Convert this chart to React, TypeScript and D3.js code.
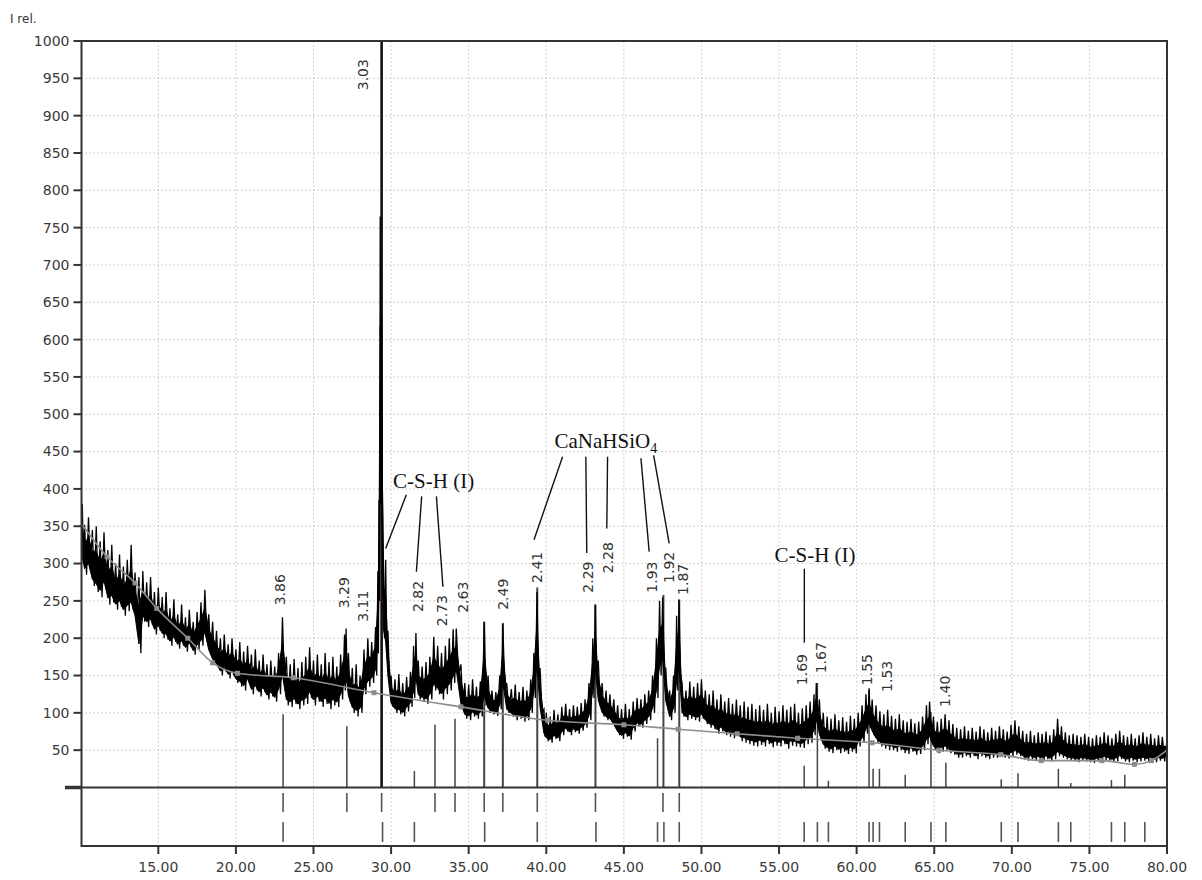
import React from 'react';
import * as d3 from 'd3';

// measured scan: [2theta, upper edge of noise band, lower edge of noise band]
const scanReadings: [number, number, number][] = [
  [10.1, 380, 300], [10.25, 352, 285], [10.5, 362, 292], [10.75, 345, 270], [11.0, 350, 262],
  [11.25, 330, 255], [11.5, 342, 268], [11.75, 318, 245], [12.0, 325, 248], [12.25, 300, 238],
  [12.5, 312, 242], [12.75, 296, 230], [13.0, 305, 236], [13.25, 325, 238], [13.5, 288, 222],
  [13.75, 282, 180], [14.0, 290, 222], [14.25, 275, 215], [14.5, 282, 218], [14.75, 262, 205],
  [15.0, 268, 210], [15.25, 255, 200], [15.5, 262, 198], [15.75, 240, 190], [16.0, 252, 195],
  [16.25, 232, 186], [16.5, 245, 190], [16.75, 228, 182], [17.0, 238, 188], [17.25, 222, 178],
  [17.5, 235, 185], [17.75, 248, 190], [18.0, 265, 200], [18.25, 232, 178], [18.5, 222, 165],
  [18.75, 210, 160], [19.0, 200, 150], [19.25, 205, 155], [19.5, 192, 146], [19.75, 200, 150],
  [20.0, 185, 140], [20.25, 195, 135], [20.5, 182, 130], [20.75, 190, 140], [21.0, 178, 125],
  [21.25, 185, 130], [21.5, 170, 122], [21.75, 178, 128], [22.0, 165, 118], [22.25, 170, 122],
  [22.5, 162, 115], [22.75, 180, 125], [23.0, 228, 140], [23.25, 175, 110], [23.5, 165, 108],
  [23.75, 172, 112], [24.0, 160, 105], [24.25, 168, 110], [24.5, 175, 112], [24.75, 188, 120],
  [25.0, 170, 110], [25.25, 178, 115], [25.5, 165, 108], [25.75, 180, 112], [26.0, 168, 105],
  [26.25, 175, 110], [26.5, 162, 108], [26.75, 178, 118], [27.0, 205, 130], [27.1, 213, 140],
  [27.25, 180, 115], [27.5, 160, 100], [27.75, 165, 95], [28.0, 150, 100], [28.25, 185, 125],
  [28.5, 200, 135], [28.75, 195, 140], [29.0, 215, 150], [29.15, 290, 180], [29.22, 385, 250],
  [29.3, 765, 380], [29.38, 630, 400], [29.5, 310, 200], [29.65, 305, 180], [29.8, 210, 140],
  [30.0, 150, 108], [30.25, 145, 100], [30.5, 152, 98], [30.75, 140, 95], [31.0, 148, 102],
  [31.25, 155, 108], [31.45, 190, 120], [31.6, 207, 140], [31.75, 170, 118], [32.0, 162, 115],
  [32.25, 168, 112], [32.5, 175, 118], [32.75, 202, 130], [33.0, 190, 125], [33.25, 180, 118],
  [33.5, 190, 125], [33.75, 200, 130], [34.0, 212, 140], [34.2, 213, 150], [34.5, 165, 105],
  [34.75, 140, 92], [35.0, 138, 90], [35.25, 145, 95], [35.5, 135, 92], [35.75, 142, 95],
  [36.0, 222, 110], [36.25, 150, 100], [36.5, 130, 98], [36.75, 128, 96], [37.0, 150, 105],
  [37.2, 220, 130], [37.45, 140, 100], [37.75, 132, 95], [38.0, 138, 90], [38.25, 128, 92],
  [38.5, 135, 88], [38.75, 130, 90], [39.0, 145, 100], [39.2, 180, 120], [39.4, 262, 150],
  [39.6, 160, 100], [39.85, 105, 68], [40.0, 100, 62], [40.25, 95, 60], [40.5, 104, 65],
  [40.75, 98, 62], [41.0, 108, 70], [41.25, 112, 75], [41.5, 105, 70], [41.75, 110, 74],
  [42.0, 108, 72], [42.25, 113, 76], [42.5, 118, 80], [42.75, 140, 90], [43.0, 200, 120],
  [43.15, 245, 150], [43.35, 170, 110], [43.6, 140, 95], [43.85, 130, 90], [44.1, 125, 88],
  [44.35, 118, 80], [44.6, 110, 70], [44.85, 105, 65], [45.1, 112, 68], [45.35, 105, 64],
  [45.6, 115, 75], [45.85, 120, 82], [46.1, 118, 80], [46.35, 125, 85], [46.6, 130, 90],
  [46.85, 150, 100], [47.1, 200, 120], [47.3, 250, 150], [47.5, 255, 160], [47.7, 160, 110],
  [47.95, 130, 90], [48.2, 150, 100], [48.4, 230, 130], [48.55, 252, 150], [48.75, 140, 95],
  [49.0, 130, 90], [49.25, 142, 92], [49.5, 135, 90], [49.75, 140, 88], [50.0, 145, 92],
  [50.25, 130, 85], [50.5, 125, 80], [50.75, 130, 78], [51.0, 118, 72], [51.25, 125, 75],
  [51.5, 115, 70], [51.75, 120, 68], [52.0, 112, 66], [52.25, 118, 70], [52.5, 110, 62],
  [52.75, 115, 60], [53.0, 108, 58], [53.25, 112, 56], [53.5, 105, 55], [53.75, 110, 57],
  [54.0, 104, 55], [54.25, 112, 58], [54.5, 100, 54], [54.75, 108, 56], [55.0, 102, 55],
  [55.25, 110, 58], [55.5, 104, 52], [55.75, 108, 56], [56.0, 112, 55], [56.25, 100, 54],
  [56.5, 106, 53], [56.75, 110, 58], [57.0, 115, 60], [57.25, 125, 70], [57.4, 140, 85],
  [57.6, 118, 65], [57.85, 100, 52], [58.1, 95, 48], [58.35, 92, 46], [58.6, 98, 50],
  [58.85, 90, 46], [59.1, 94, 48], [59.35, 88, 45], [59.6, 96, 48], [59.85, 92, 46],
  [60.1, 100, 55], [60.35, 110, 60], [60.6, 125, 72], [60.8, 133, 80], [61.0, 118, 70],
  [61.25, 110, 60], [61.5, 102, 55], [61.75, 98, 52], [62.0, 104, 50], [62.25, 96, 50],
  [62.5, 92, 48], [62.75, 98, 50], [63.0, 90, 46], [63.25, 88, 45], [63.5, 92, 48],
  [63.75, 86, 44], [64.0, 88, 45], [64.25, 95, 50], [64.5, 110, 58], [64.7, 115, 62],
  [64.95, 95, 50], [65.2, 88, 46], [65.45, 92, 48], [65.7, 98, 50], [65.95, 90, 46],
  [66.2, 85, 44], [66.45, 80, 40], [66.7, 78, 40], [66.95, 82, 42], [67.2, 76, 40],
  [67.45, 80, 42], [67.7, 75, 38], [67.95, 82, 42], [68.2, 78, 40], [68.45, 74, 38],
  [68.7, 80, 40], [68.95, 76, 40], [69.2, 82, 42], [69.45, 78, 40], [69.7, 75, 39],
  [69.95, 84, 42], [70.2, 90, 44], [70.45, 82, 42], [70.7, 76, 38], [70.95, 72, 36],
  [71.2, 76, 38], [71.45, 70, 36], [71.7, 74, 37], [71.95, 72, 36], [72.2, 75, 38],
  [72.45, 70, 35], [72.7, 78, 38], [72.95, 92, 42], [73.2, 82, 40], [73.45, 74, 38],
  [73.7, 70, 36], [73.95, 72, 35], [74.2, 70, 34], [74.45, 68, 36], [74.7, 72, 35],
  [74.95, 68, 34], [75.2, 66, 33], [75.45, 70, 35], [75.7, 68, 36], [75.95, 74, 37],
  [76.2, 70, 36], [76.45, 66, 34], [76.7, 72, 35], [76.95, 76, 38], [77.2, 70, 35],
  [77.45, 68, 34], [77.7, 72, 36], [77.95, 66, 34], [78.2, 70, 35], [78.45, 74, 36],
  [78.7, 68, 35], [78.95, 72, 36], [79.2, 66, 34], [79.45, 70, 36], [79.7, 68, 35],
  [80.0, 64, 40],
];

// fitted background
const bgAngle = [10.1, 11.7, 13.5, 14.9, 16.9, 18.5, 20.1, 23.7, 28.9, 34.5, 40.1, 45, 48.5, 52.3, 56.2, 61, 65.3, 69.3, 71.9, 75.8, 77.9, 79, 80];
const bgValue = [352, 309, 274, 240, 200, 167, 153, 147, 127, 108, 90, 84, 78, 72, 66, 60, 50, 44, 36, 36, 31, 36, 50];

// reference pattern lines drawn in the main plot
const stickAngle = [23.04, 27.15, 29.39, 31.5, 32.83, 34.12, 36.0, 37.2, 39.42, 43.17, 47.17, 47.55, 48.57, 56.62, 57.47, 58.18, 60.8, 61.06, 61.47, 63.13, 64.79, 65.75, 69.32, 70.4, 73.0, 73.8, 76.42, 77.28];
const stickValue = [98, 82, 1000, 22, 84, 92, 222, 220, 268, 245, 66, 258, 251, 29, 140, 9, 131, 25, 25, 17, 101, 33, 11, 19, 25, 6, 10, 17];

// phase marker rows under the plot
const phaseRow1 = [23.04, 27.15, 29.39, 32.83, 34.12, 36.0, 37.2, 39.42, 43.17, 47.52, 48.57];
const phaseRow2 = [23.04, 29.45, 31.5, 36.03, 39.42, 43.2, 47.17, 47.58, 48.57, 56.62, 57.47, 58.18, 60.8, 61.06, 61.47, 63.13, 64.79, 65.75, 69.32, 70.4, 73.0, 73.8, 76.42, 77.28, 78.57];

// d-spacing labels
const peakLabel = ['3.86', '3.29', '3.11', '3.03', '2.82', '2.73', '2.63', '2.49', '2.41', '2.29', '2.28', '1.93', '1.92', '1.87', '1.69', '1.67', '1.55', '1.53', '1.40'];
const peakLabelAngle = [22.87, 26.94, 28.16, 28.16, 31.71, 33.26, 34.61, 37.19, 39.39, 42.68, 43.97, 46.81, 47.9, 48.81, 56.48, 57.68, 60.68, 61.97, 65.71];
const peakLabelBase = [244, 240, 222, 934, 235, 216, 234, 238, 274, 261, 287, 261, 274, 258, 137, 153, 137, 128, 108];

// phase annotations
const phaseName = ['C-S-H (I)', 'CaNaHSiO', 'C-S-H (I)'];
const phaseNameAngle = [32.74, 43.84, 57.32];
const phaseNameBase = [401, 455, 302];
// leader lines: [phase index, from angle, from value, to angle, to value]
const leaders: [number, number, number, number, number][] = [
  [0, 30.98, 392, 29.65, 320], [0, 31.97, 390, 31.63, 289], [0, 32.92, 390, 33.34, 269],
  [1, 41.05, 443, 39.21, 332], [1, 42.55, 443, 42.61, 314], [1, 43.95, 443, 43.9, 347],
  [1, 46.1, 441, 46.63, 316], [1, 46.92, 445, 47.92, 327],
  [2, 56.63, 293, 56.63, 194],
];

const yTicks = d3.range(50, 1001, 50);
const xTicks = d3.range(15, 81, 5);

export default function App() {
  const left = 81.5, right = 1167, top = 41, zeroY = 787.5, bottom = 846;
  const x = d3.scaleLinear().domain([10.05, 80]).range([left, right]);
  const y = d3.scaleLinear().domain([0, 1000]).range([zeroY, top]);

  // jagged trace: peak reading at each angle, trough reading half way to the next
  const zig: [number, number][] = [];
  scanReadings.forEach((d, i) => {
    zig.push([x(d[0]), y(d[1])]);
    const next = scanReadings[i + 1];
    if (next) zig.push([x((d[0] + next[0]) / 2), y(d[2])]);
  });
  const zigPath = d3.line()(zig) || '';

  // dense core of the noise band
  const core = d3.area<[number, number, number]>()
    .x(d => x(d[0]))
    .y0(d => y(d[2] + (d[1] - d[2]) * 0.12))
    .y1(d => y(d[2] + (d[1] - d[2]) * 0.62));
  const corePath = core(scanReadings) || '';

  const bgPath = d3.line<number>().x((_, i) => x(bgAngle[i])).y(d => y(d)).curve(d3.curveMonotoneX)(bgValue) || '';

  const num = { fontFamily: 'DejaVu Sans, sans-serif', fontSize: 14, fill: '#3a3a3a' };
  const serif = { fontFamily: 'Liberation Serif, Times New Roman, serif', fontSize: 21, fill: '#111' };

  return (
    <svg width={1202} height={880} style={{ position: 'absolute', left: 0, top: 0, background: '#fff' }}>
      <rect width={1202} height={880} fill="#fff" />
      <text x={10} y={23} style={{ fontFamily: 'DejaVu Sans, sans-serif', fontSize: 12, fill: '#333' }}>I rel.</text>

      {/* grid */}
      <g stroke="#c4c4c4" strokeWidth={1} strokeDasharray="1.5,2.5">
        {yTicks.filter(t => t < 1000).map(t => (
          <line key={'gy' + t} x1={left} x2={right} y1={y(t)} y2={y(t)} />
        ))}
        {xTicks.filter(t => t < 80).map(t => (
          <line key={'gx' + t} x1={x(t)} x2={x(t)} y1={top} y2={bottom} />
        ))}
      </g>

      {/* reference sticks */}
      <g stroke="#444">
        {stickAngle.map((a, i) => (
          <line key={'s' + i} x1={x(a)} x2={x(a)} y1={zeroY} y2={y(stickValue[i])}
            strokeWidth={stickValue[i] > 200 ? (stickValue[i] > 900 ? 2.6 : 2) : 1.5}
            stroke={stickValue[i] > 900 ? '#111' : '#444'} />
        ))}
      </g>

      {/* measured scan */}
      <path d={corePath} fill="#000" stroke="#000" strokeWidth={1} />
      <path d={zigPath} fill="none" stroke="#000" strokeWidth={1.3} strokeLinejoin="miter" />

      {/* background */}
      <path d={bgPath} fill="none" stroke="#8d8d8d" strokeWidth={1.6} />
      {bgAngle.slice(1, -1).map((a, i) => (
        <rect key={'b' + i} x={x(a) - 2.5} y={y(bgValue[i + 1]) - 2.5} width={5} height={5} fill="#8d8d8d" />
      ))}

      {/* phase markers */}
      <g stroke="#555" strokeWidth={1.6}>
        {phaseRow1.map((a, i) => (
          <line key={'p1' + i} x1={x(a)} x2={x(a)} y1={793} y2={812} />
        ))}
        {phaseRow2.map((a, i) => (
          <line key={'p2' + i} x1={x(a)} x2={x(a)} y1={822} y2={842} />
        ))}
      </g>

      {/* frame and axes */}
      <g stroke="#333" fill="none">
        <rect x={left} y={top} width={right - left} height={bottom - top} strokeWidth={2} />
        <line x1={left} x2={right} y1={zeroY} y2={zeroY} strokeWidth={2} />
        <line x1={65} x2={left} y1={zeroY} y2={zeroY} strokeWidth={3.5} />
        {yTicks.map(t => (
          <line key={'ty' + t} x1={left - 8} x2={left} y1={y(t)} y2={y(t)} strokeWidth={2} />
        ))}
        {xTicks.map(t => (
          <line key={'tx' + t} x1={x(t)} x2={x(t)} y1={bottom} y2={bottom + 8} strokeWidth={2} />
        ))}
      </g>
      {yTicks.map(t => (
        <text key={'ly' + t} x={left - 12} y={y(t)} dy="0.35em" textAnchor="end" style={num}>{t}</text>
      ))}
      {xTicks.map(t => (
        <text key={'lx' + t} x={x(t)} y={872} textAnchor="middle" style={num}>{t.toFixed(2)}</text>
      ))}

      {/* peak labels */}
      {peakLabel.map((s, i) => (
        <text key={'pl' + i} transform={`translate(${x(peakLabelAngle[i])},${y(peakLabelBase[i])}) rotate(-90)`}
          dominantBaseline="central" style={{ ...num, fontSize: 14, fill: '#333' }}>{s}</text>
      ))}

      {/* phase annotations */}
      <g stroke="#111" strokeWidth={1.4}>
        {leaders.map((l, i) => (
          <line key={'ld' + i} x1={x(l[1])} y1={y(l[2])} x2={x(l[3])} y2={y(l[4])} />
        ))}
      </g>
      {phaseName.map((s, i) => (
        <text key={'pn' + i} x={x(phaseNameAngle[i])} y={y(phaseNameBase[i])} textAnchor="middle" style={serif}>
          {s}{i === 1 ? <tspan fontSize={14} dy={5}>4</tspan> : null}
        </text>
      ))}
    </svg>
  );
}
